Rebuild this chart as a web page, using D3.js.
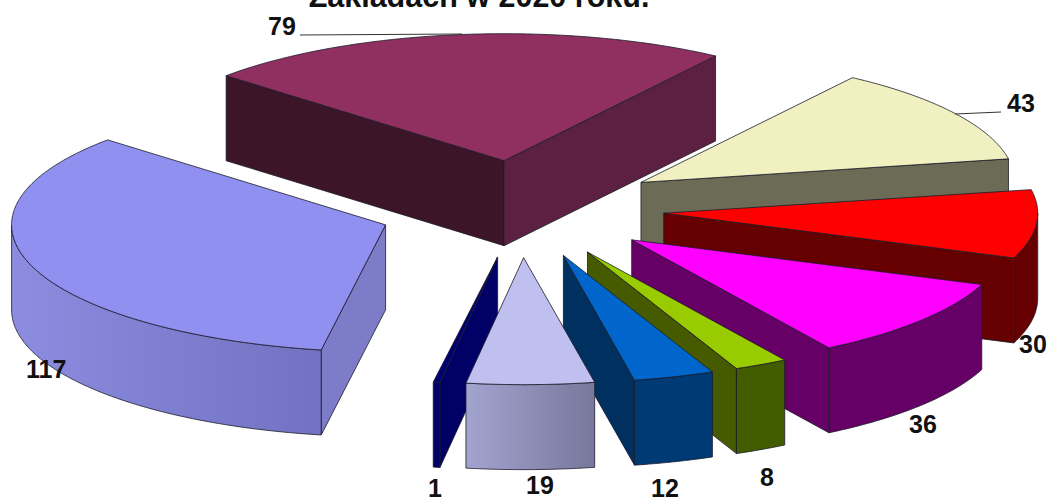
<!DOCTYPE html>
<html>
<head>
<meta charset="utf-8">
<style>
    html, body { margin: 0; padding: 0; background: #fff; overflow: hidden; }
    text { font-family: "Liberation Sans", Arial, sans-serif; font-weight: bold; fill: #111; }
</style>
<script src="https://d3js.org/d3.v7.min.js"></script>
</head>
<body>
<svg id="chart" width="1048" height="498"></svg>
<script>
// Slice values, clockwise from the top slice
const values = [79, 43, 30, 36, 8, 12, 19, 1, 117];
const topColors = ['#903060', '#f0f0c0', '#ff0000', '#ff00ff', '#99cc00', '#0066cc', '#c0c0f0', '#000070', '#9090f0'];
const sideColors = ['#3d1528', '#6c6c56', '#660000', '#660066', '#465a00', '#003060', '#c0c0f0', '#000066', '#7c7cc8'];
const wallLight = ['#5c2040', '#6c6c56', '#660000', '#660066', '#425c00', '#003a75', '#a3a3d0', '#000066', '#8c8ce0'];
const wallDark = ['#5c2040', '#6c6c56', '#660000', '#660066', '#425c00', '#003a75', '#78789c', '#000066', '#7272c2'];
// Painter order: back slices first
const drawOrder = [0, 8, 1, 2, 3, 4, 5, 7, 6];

const labelX = [268, 1007, 1019, 909, 760, 651, 526, 428, 26];
const labelY = [35, 112, 353, 433, 486, 497, 494, 497, 378];

const width = 1048;
const height = 498;
const depth = 85;      // wall height in px
const explode = 0.383; // slice offset as a part of the radius

const svg = d3.select('#chart');

// Tilted pie: unit circle coordinates to the page
const x = d3.scaleLinear().domain([-1, 1]).range([521 - 374, 521 + 374]);
const y = d3.scaleLinear().domain([-1, 1]).range([209 - 127, 209 + 127]);

const pie = d3.pie().sort(null).value(d => d)
    .startAngle(-48 * Math.PI / 180)
    .endAngle(312 * Math.PI / 180);
const arcs = pie(values);

const line = d3.line();

// Title is cut by the top edge in the original
svg.append('text')
    .attr('x', 479)
    .attr('y', 7)
    .attr('text-anchor', 'middle')
    .attr('font-size', 30.5)
    .text('Zakładach w 2020 roku.');

const defs = svg.append('defs');

arcs.forEach((d, i) => {
    const grad = defs.append('linearGradient').attr('id', 'wall' + i);
    grad.append('stop').attr('offset', '0%').attr('stop-color', wallLight[i]);
    grad.append('stop').attr('offset', '100%').attr('stop-color', wallDark[i]);
});

drawOrder.forEach(i => {
    const d = arcs[i];
    const mid = (d.startAngle + d.endAngle) / 2;
    const ox = explode * Math.sin(mid);
    const oy = -explode * Math.cos(mid);
    const pt = (t, r = 1) => [x(ox + r * Math.sin(t)), y(oy - r * Math.cos(t))];
    const down = p => [p[0], p[1] + depth];
    const apex = pt(0, 0);
    const g = svg.append('g').attr('stroke', '#1a1a2a').attr('stroke-width', 0.8).attr('stroke-linejoin', 'round');

    // Walls that face the viewer
    const wall = t => {
        const rim = pt(t);
        g.append('path')
            .attr('d', line([apex, rim, down(rim), down(apex)]) + 'Z')
            .attr('fill', t === d.startAngle ? sideColors[i] : (i === 0 ? wallLight[0] : sideColors[i]));
    };
    if (Math.sin(d.startAngle) < 0) wall(d.startAngle);
    if (Math.sin(d.endAngle) > 0) wall(d.endAngle);

    // Outer wall, only the part on the near half of the rim
    const from = Math.max(d.startAngle, Math.PI / 2);
    const to = Math.min(d.endAngle, Math.PI * 1.5);
    if (to > from) {
        const rim = d3.range(from, to, 0.01).concat(to).map(t => pt(t));
        g.append('path')
            .attr('d', line(rim.concat(rim.slice().reverse().map(down))) + 'Z')
            .attr('fill', `url(#wall${i})`);
    }

    // Top face
    const rim = d3.range(d.startAngle, d.endAngle, 0.01).concat(d.endAngle).map(t => pt(t));
    g.append('path')
        .attr('d', line([apex].concat(rim)) + 'Z')
        .attr('fill', topColors[i]);
});

// Leader lines
svg.append('path').attr('d', line([[300, 35], [462, 34]])).attr('stroke', '#333').attr('fill', 'none');
svg.append('path').attr('d', line([[1001, 112], [955, 114]])).attr('stroke', '#333').attr('fill', 'none');

// Value labels
svg.selectAll('.label')
    .data(values)
    .enter()
    .append('text')
    .attr('class', 'label')
    .attr('x', (d, i) => labelX[i])
    .attr('y', (d, i) => labelY[i])
    .attr('font-size', 25)
    .text(d => d);
</script>
</body>
</html>
